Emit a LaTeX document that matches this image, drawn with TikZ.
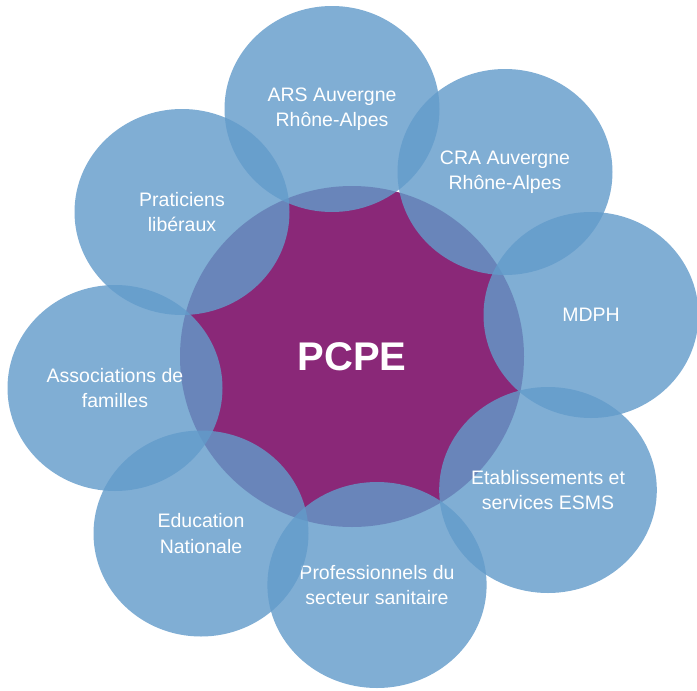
\documentclass[tikz,border=0pt]{standalone}
\usepackage{fontspec}
\setmainfont{Liberation Sans}
\usetikzlibrary{shapes.geometric}
\definecolor{hubpurple}{RGB}{138,40,120}
\definecolor{bubblue}{RGB}{98,155,202}
\tikzset{
  bub/.style={ellipse, minimum width=215pt, minimum height=206pt, inner sep=0pt,
    fill=bubblue, fill opacity=0.81, text opacity=1, text=white, align=center,
    font=\fontsize{19.5}{25.5}\selectfont},
  hub/.style={ellipse, minimum width=344pt, minimum height=341pt, inner sep=0pt,
    fill=hubpurple, text=white, font=\fontsize{40}{46}\selectfont\bfseries}
}
\begin{document}
\begin{tikzpicture}[x=1pt,y=-1pt]
\useasboundingbox (0,0) rectangle (697,691);
\node[hub] (pcpe) at (352,356.5) {PCPE};
\node[bub] (ars) at (332,109) {ARS Auvergne\\Rhône-Alpes};
\node[bub] (cra) at (505,172) {CRA Auvergne\\Rhône-Alpes};
\node[bub] (mdph) at (591,315) {MDPH};
\node[bub] (esms) at (548,490) {Etablissements et\\services ESMS};
\node[bub] (pro) at (377,585) {Professionnels du\\secteur sanitaire};
\node[bub] (edu) at (201,533.5) {Education\\Nationale};
\node[bub] (asso) at (115,388) {Associations de\\familles};
\node[bub] (prat) at (182,212) {Praticiens\\libéraux};
\end{tikzpicture}
\end{document}
